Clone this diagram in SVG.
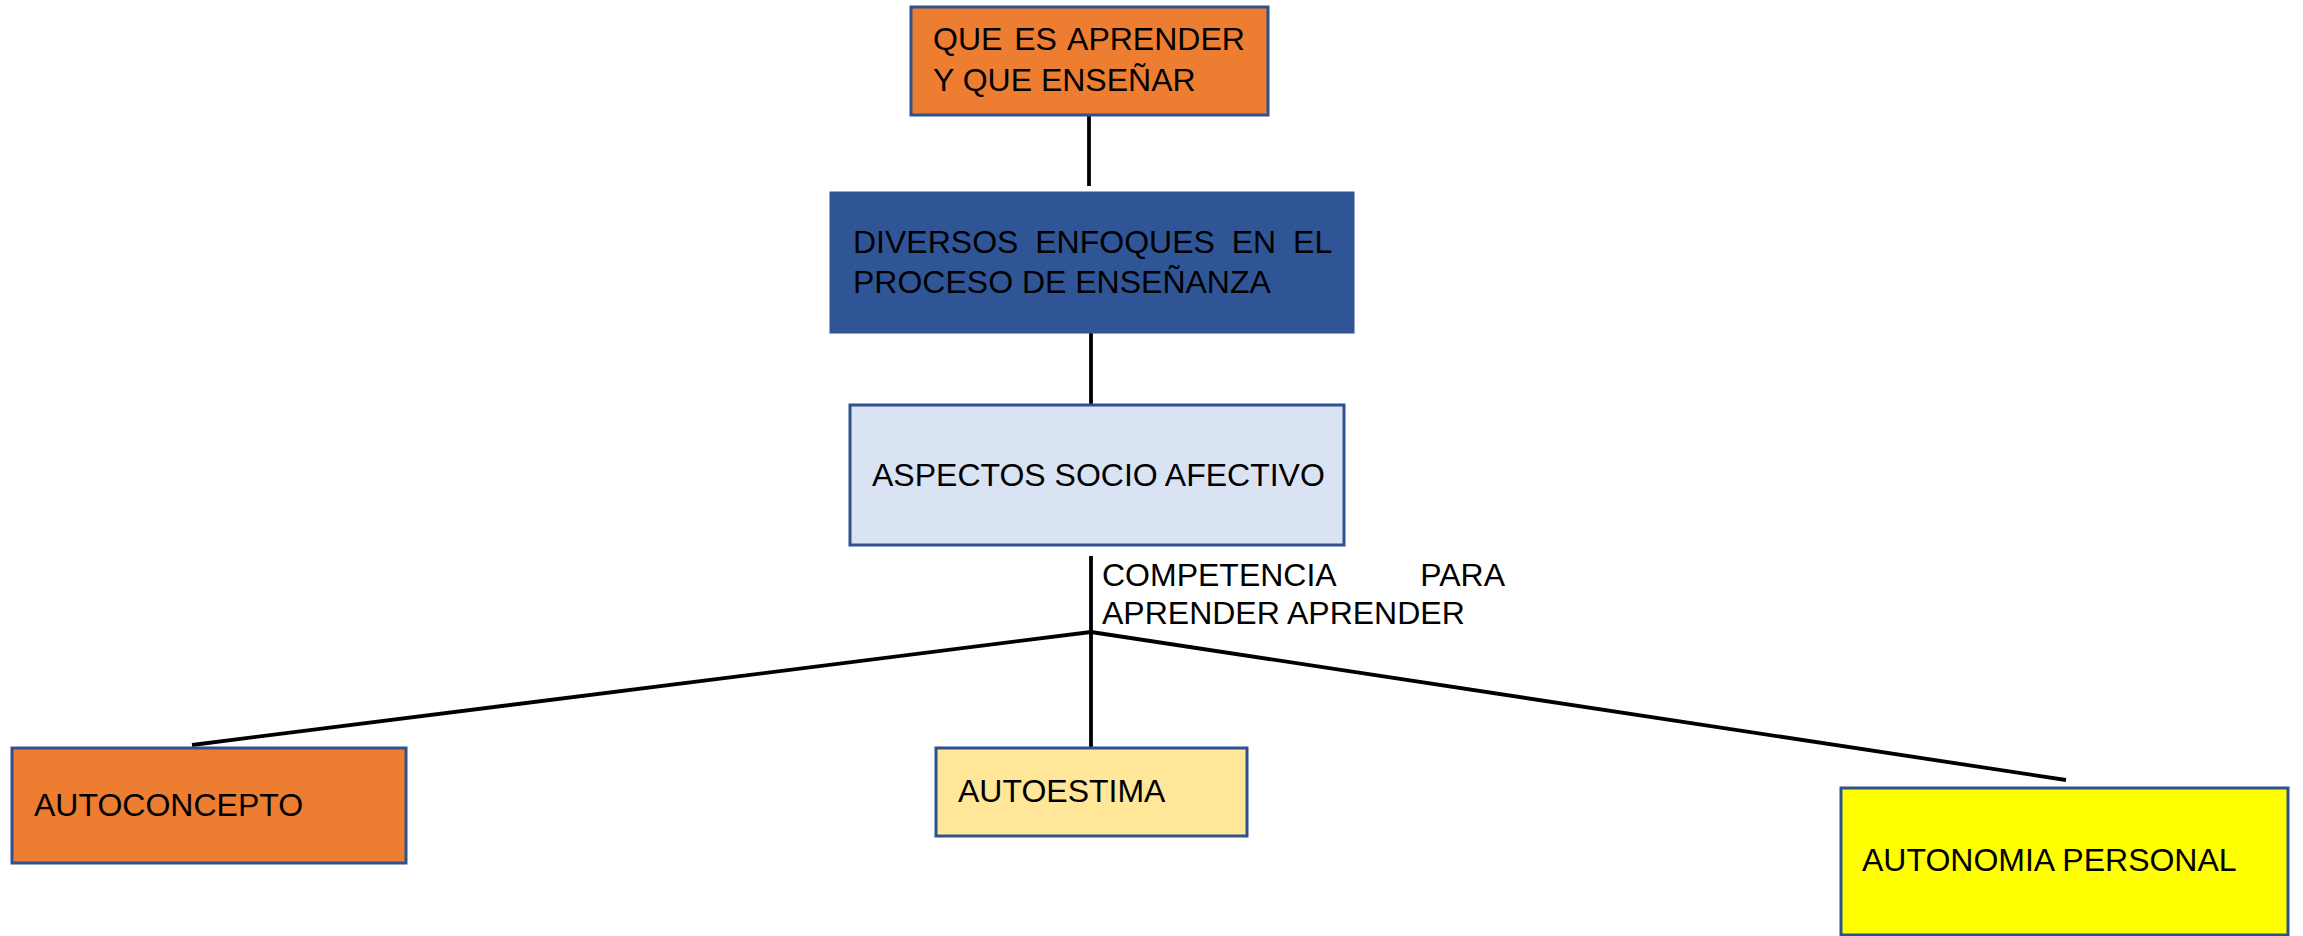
<svg xmlns="http://www.w3.org/2000/svg" width="2303" height="936" viewBox="0 0 2303 936">
<style>
.box{stroke:#2F528F;stroke-width:3}
.t{font-family:"Liberation Sans",Arial,sans-serif;font-size:32px;fill:#000}
.c{stroke:#000;stroke-width:3.8;fill:none}
</style>
<rect width="2303" height="936" fill="#fff"/>
<g id="connectors">
<line class="c" x1="1089" y1="104" x2="1089" y2="186"/>
<line class="c" x1="1091" y1="333" x2="1091" y2="405"/>
<line class="c" x1="1091" y1="556" x2="1091" y2="748"/>
<line class="c" x1="1091" y1="632" x2="192" y2="745"/>
<line class="c" x1="1091" y1="632" x2="2066" y2="780"/>
</g>
<g id="node-que-es-aprender">
<rect class="box" x="911" y="7" width="357" height="108" fill="#ED7D31"/>
<text class="t" x="933" y="50" word-spacing="3">QUE ES APRENDER</text>
<text class="t" x="933" y="91">Y QUE ENSEÑAR</text>
</g>
<g id="node-diversos-enfoques">
<rect x="830" y="192" width="524" height="141" fill="#2F5597" stroke="#2F5597" stroke-width="1"/>
<text class="t" x="853" y="253" word-spacing="8">DIVERSOS ENFOQUES EN EL</text>
<text class="t" x="853" y="293">PROCESO DE ENSEÑANZA</text>
</g>
<g id="node-aspectos-socio-afectivo">
<rect class="box" x="850" y="405" width="494" height="140" fill="#DAE3F3"/>
<text class="t" x="872" y="486">ASPECTOS SOCIO AFECTIVO</text>
</g>
<g id="label-competencia">
<text class="t" x="1102" y="586">COMPETENCIA</text>
<text class="t" x="1505" y="586" text-anchor="end">PARA</text>
<text class="t" x="1102" y="624">APRENDER APRENDER</text>
</g>
<g id="node-autoconcepto">
<rect class="box" x="12" y="748" width="394" height="115" fill="#ED7D31"/>
<text class="t" x="34" y="816">AUTOCONCEPTO</text>
</g>
<g id="node-autoestima">
<rect class="box" x="936" y="748" width="311" height="88" fill="#FFE699"/>
<text class="t" x="958" y="802">AUTOESTIMA</text>
</g>
<g id="node-autonomia-personal">
<rect class="box" x="1841" y="788" width="447" height="147" fill="#FFFF00"/>
<text class="t" x="1862" y="871">AUTONOMIA PERSONAL</text>
</g>
</svg>
